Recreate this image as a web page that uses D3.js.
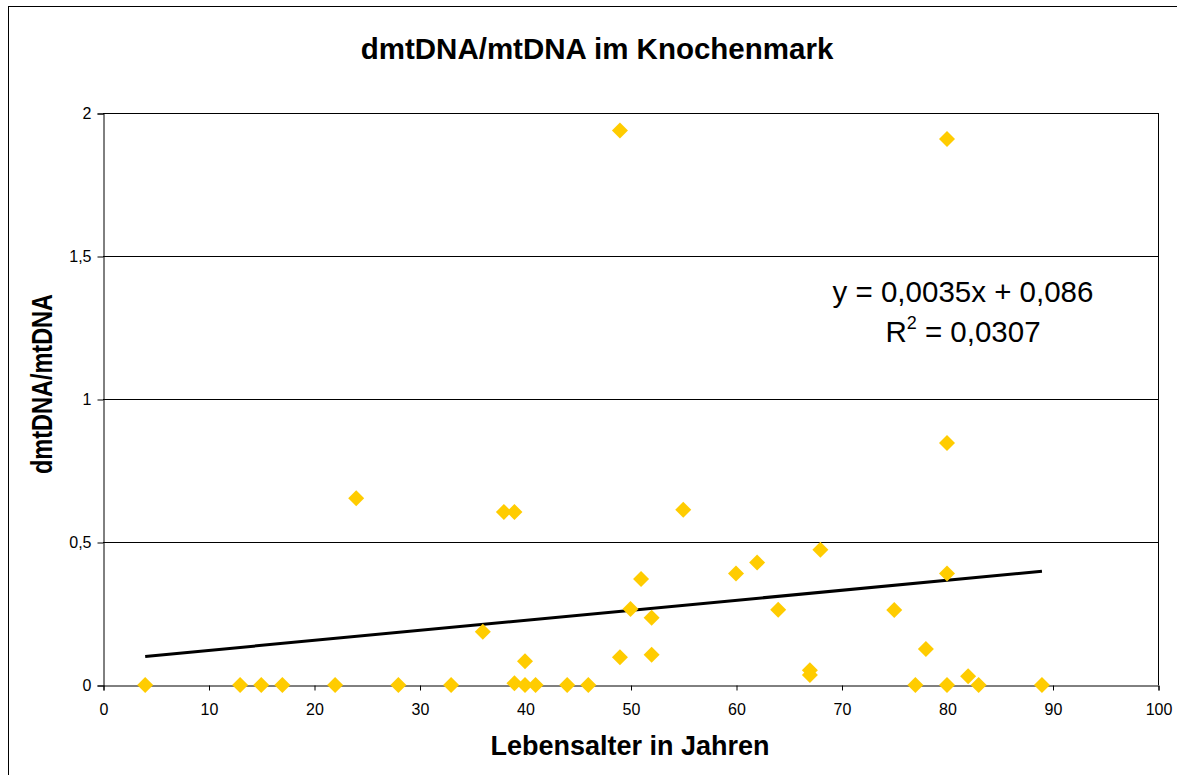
<!DOCTYPE html>
<html><head><meta charset="utf-8">
<script src="https://cdn.jsdelivr.net/npm/d3@7"></script>
<style>body{margin:0;background:#fff;}svg{display:block;font-family:"Liberation Sans",Arial,sans-serif;}</style>
</head><body>
<svg id="c" width="1177" height="775"></svg>
<script>
const ages = [4,13,15,17,22,24,28,33,36,38,39,39,40,40,41,44,46,49,49,50,51,52,52,55,60,62,64,67,67,68,75,77,78,80,80,80,80,82,83,89];
const values = [0,0,0,0,0,0.653,0,0,0.186,0.605,0.605,0.006,0.083,0,0,0,0,1.939,0.097,0.266,0.371,0.235,0.106,0.613,0.39,0.428,0.263,0.052,0.035,0.473,0.262,0,0.126,1.909,0.846,0.39,0,0.031,0,0];
const xTicks = [0,10,20,30,40,50,60,70,80,90,100];
const yTicks = [0,0.5,1,1.5,2];
const trendSlope = 0.0035, trendIntercept = 0.086;
const title = "dmtDNA/mtDNA im Knochenmark";
const xLabel = "Lebensalter in Jahren";
const yLabel = "dmtDNA/mtDNA";
const eqLine1 = "y = 0,0035x + 0,086";
const r2Value = "0,0307";

const svg = d3.select("#c");
const L = 103, R = 1158, T = 113, B = 685;
const x = d3.scaleLinear().domain([0,100]).range([L,R]);
const y = d3.scaleLinear().domain([0,2]).range([B,T]);
const fmt = d => String(d).replace(".", ",");

// outer border
svg.append("rect").attr("x",8.5).attr("y",6.5).attr("width",1180).attr("height",800)
  .attr("fill","none").attr("stroke","#000").attr("stroke-width",1);

// gridlines
svg.append("g").selectAll("line").data(yTicks.filter(d=>d>0)).join("line")
  .attr("x1",L).attr("x2",R).attr("y1",d=>Math.round(y(d))+0.5).attr("y2",d=>Math.round(y(d))+0.5)
  .attr("stroke","#000").attr("stroke-width",1);

// plot frame right
svg.append("line").attr("x1",R+0.5).attr("x2",R+0.5).attr("y1",T).attr("y2",B).attr("stroke","#000");

// axes
const yAxis = d3.axisLeft(y).tickValues(yTicks).tickSize(6).tickPadding(6).tickFormat(fmt);
const gy = svg.append("g").attr("transform",`translate(${L+0.5},0.5)`).call(yAxis);
const xAxis = d3.axisBottom(x).tickValues(xTicks).tickSize(5).tickPadding(13).tickFormat(fmt);
const gx = svg.append("g").attr("transform",`translate(0.5,${B+0.5})`).call(xAxis);
[gx,gy].forEach(g=>{
  g.select(".domain").attr("stroke","#000");
  g.selectAll(".tick line").attr("stroke","#000");
  g.selectAll("text").attr("font-size",16).attr("fill","#000").attr("font-family","Liberation Sans, Arial, sans-serif");
});

// trendline
const xs = [d3.min(ages), d3.max(ages)];
svg.append("line")
  .attr("x1",x(xs[0])).attr("y1",y(trendSlope*xs[0]+trendIntercept))
  .attr("x2",x(xs[1])).attr("y2",y(trendSlope*xs[1]+trendIntercept))
  .attr("stroke","#000").attr("stroke-width",3);

// points
const diamond = "M0,-8L8,0L0,8L-8,0Z";
svg.append("g").selectAll("path").data(ages.map((a,i)=>[a,values[i]])).join("path")
  .attr("d",diamond).attr("transform",d=>`translate(${x(d[0])},${y(d[1])})`)
  .attr("fill","#FFCC00");

// titles
svg.append("text").attr("x",597).attr("y",59).attr("text-anchor","middle")
  .attr("font-size",29.5).attr("font-weight","bold").text(title);
svg.append("text").attr("x",630).attr("y",755).attr("text-anchor","middle")
  .attr("font-size",27).attr("font-weight","bold").text(xLabel);
svg.append("text").attr("transform","translate(52,384) rotate(-90) scale(1,1.25)").attr("text-anchor","middle")
  .attr("font-size",23.5).attr("font-weight","bold").text(yLabel);

// equation
svg.append("text").attr("x",963).attr("y",302).attr("text-anchor","middle")
  .attr("font-size",29.5).text(eqLine1);
const t2 = svg.append("text").attr("x",963).attr("y",342).attr("text-anchor","middle").attr("font-size",29.5);
t2.append("tspan").text("R");
t2.append("tspan").attr("dy",-13).attr("font-size",18).text("2");
t2.append("tspan").attr("dy",13).text(" = " + r2Value);
</script>
</body></html>
